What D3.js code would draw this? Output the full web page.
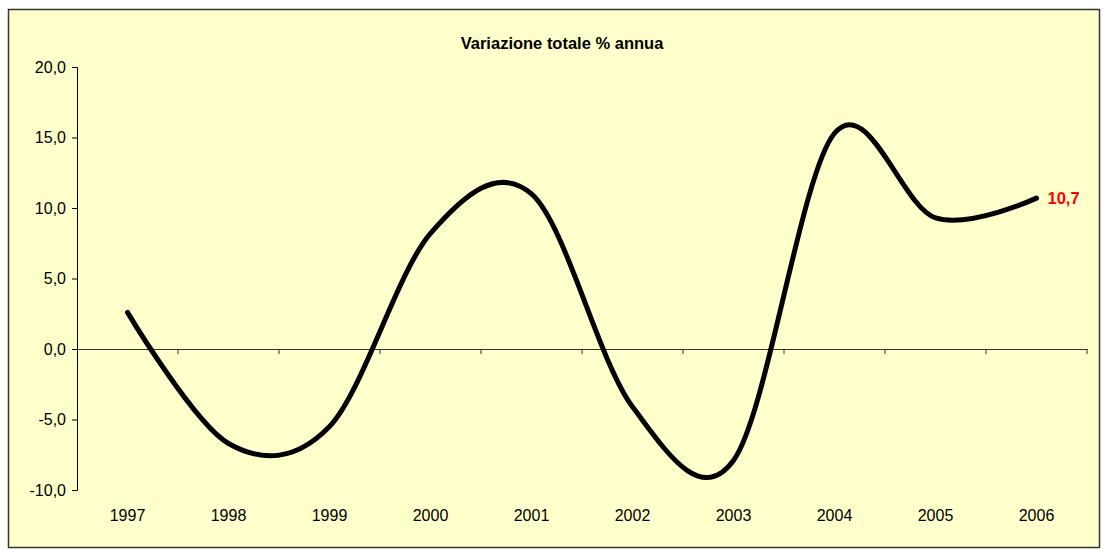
<!DOCTYPE html>
<html><head><meta charset="utf-8">
<script src="https://cdn.jsdelivr.net/npm/d3@7"></script>
<style>body{margin:0;background:#fff}svg{display:block}</style>
</head><body>
<svg id="c" width="1103" height="549"></svg>
<script>
const categories = ["1997","1998","1999","2000","2001","2002","2003","2004","2005","2006"];
const values = [2.6, -6.7, -5.5, 8.2, 11.0, -4.1, -7.9, 15.3, 9.3, 10.7];
const yTicks = [-10, -5, 0, 5, 10, 15, 20];
const title = "Variazione totale % annua";
const lastLabel = "10,7";

const svg = d3.select("#c");
svg.append("rect").attr("x",8.5).attr("y",9.5).attr("width",1091).attr("height",538)
  .attr("fill","#FFFFCC").attr("stroke","#333").attr("stroke-width",1.5);

const x = d3.scaleBand().domain(categories).range([77,1087]);
const y = d3.scaleLinear().domain([-10,20]).range([490,67]);
const fmt = d => d.toFixed(1).replace(".", ",");
const FF = "Liberation Sans, Arial, sans-serif";

svg.append("text").attr("x",562).attr("y",49).attr("text-anchor","middle")
  .attr("font-family",FF).attr("font-weight","bold")
  .attr("font-size",16.5).text(title);

// Y axis
const ya = svg.append("g").attr("transform","translate(77,0)")
  .call(d3.axisLeft(y).tickValues(yTicks).tickFormat(fmt).tickSize(5).tickPadding(6));
ya.select(".domain").attr("stroke","#000");
ya.selectAll("text").attr("font-family",FF).attr("font-size",16).attr("fill","#000");

// X axis at zero
const xa = svg.append("g").attr("transform",`translate(0,${y(0)})`)
  .call(d3.axisBottom(x).tickSize(0).tickFormat(""));
xa.select(".domain").attr("stroke","#333");
const bounds = categories.map(c => x(c) + x.bandwidth());
svg.append("g").selectAll("line").data(bounds).join("line")
  .attr("x1",d=>d).attr("x2",d=>d).attr("y1",y(0)).attr("y2",y(0)+5).attr("stroke","#333");

svg.append("g").selectAll("text").data(categories).join("text")
  .attr("x",d=>x(d)+x.bandwidth()/2).attr("y",521).attr("text-anchor","middle")
  .attr("font-family",FF).attr("font-size",16).text(d=>d);

const line = d3.line().x((d,i)=>x(categories[i])+x.bandwidth()/2).y(d=>y(d)).curve(d3.curveCatmullRom.alpha(0));
svg.append("path").datum(values).attr("d",line).attr("fill","none").attr("stroke","#000")
  .attr("stroke-width",5).attr("stroke-linecap","round").attr("stroke-linejoin","round");

const li = values.length-1;
svg.append("text").attr("x",x(categories[li])+x.bandwidth()/2+11).attr("y",y(values[li])+6)
  .attr("font-family",FF).attr("font-weight","bold")
  .attr("font-size",16.5).attr("fill","#FF0000").text(lastLabel);
</script>
</body></html>
